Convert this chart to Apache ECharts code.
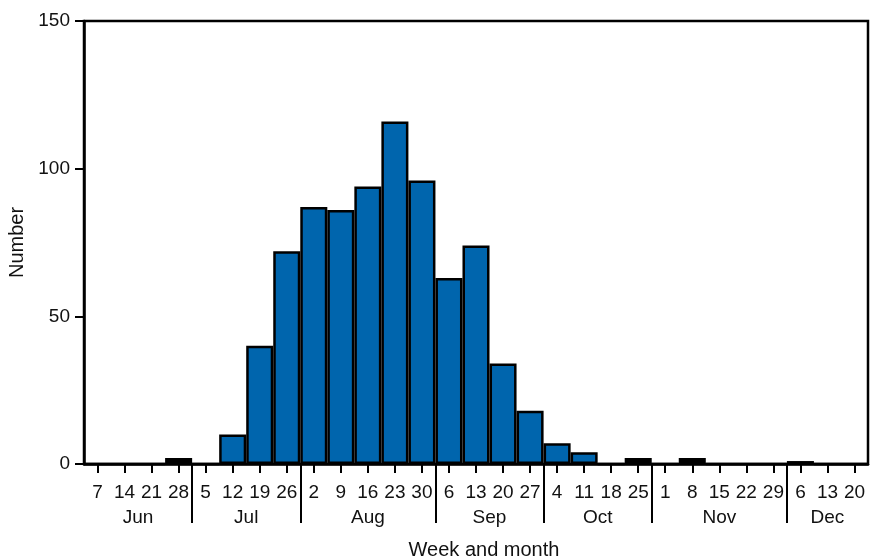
<!DOCTYPE html>
<html>
<head>
<meta charset="utf-8">
<script src="https://cdn.jsdelivr.net/npm/echarts@6/dist/echarts.min.js"></script>
<style>
  html, body { margin: 0; padding: 0; background: #fff; }
  #chart { width: 871px; height: 558px; }
</style>
</head>
<body>
<div id="chart"></div>
<script>
const weeks = ['7','14','21','28','5','12','19','26','2','9','16','23','30','6','13','20','27','4','11','18','25','1','8','15','22','29','6','13','20'];
const months = ['Jun','Jul','Aug','Sep','Oct','Nov','Dec'];
const weeksPerMonth = [4,4,5,4,4,5,3];
const counts = [0,0,0,2, 0,10,40,72, 87,86,94,116,96, 63,74,34,18, 7,4,0,2, 0,2,0,0,0, 1,0,0];
const yTicks = [0, 50, 100, 150];

// month boundaries and mid positions (in category units)
const boundaries = [];
const midpoints = [];
let acc = 0;
weeksPerMonth.forEach((n, i) => {
  midpoints.push(acc + n / 2);
  acc += n;
  if (i < weeksPerMonth.length - 1) boundaries.push(acc);
});

const FONT = 'Liberation Sans, Arial, Helvetica, sans-serif';
const BLUE = '#0065ad';

const chart = echarts.init(document.getElementById('chart'), null, { renderer: 'canvas' });
chart.setOption({
  animation: false,
  backgroundColor: '#fff',
  grid: {
    left: 84, right: 3, top: 21, bottom: 94,
    containLabel: false,
    outerBoundsMode: 'none',
    show: true, borderColor: '#000', borderWidth: 2.5, backgroundColor: 'transparent'
  },
  xAxis: [
    {
      type: 'category',
      data: weeks,
      boundaryGap: true,
      axisLine: { lineStyle: { color: '#000', width: 2.5 } },
      axisTick: { show: true, interval: 0, alignWithLabel: true, length: 9, lineStyle: { color: '#000', width: 2 } },
      axisLabel: { color: '#111', fontFamily: FONT, fontSize: 19, margin: 19, interval: 0 },
      splitLine: { show: false }
    },
    {
      type: 'value',
      position: 'bottom',
      min: 0,
      max: weeks.length,
      axisLine: { show: false },
      splitLine: { show: false },
      axisTick: {
        show: true,
        customValues: boundaries,
        length: 59,
        lineStyle: { color: '#000', width: 2 }
      },
      axisLabel: {
        show: true,
        customValues: midpoints,
        formatter: function (v) {
          const i = midpoints.findIndex(m => Math.abs(m - v) < 1e-6);
          return i >= 0 ? months[i] : '';
        },
        color: '#111', fontFamily: FONT, fontSize: 19, margin: 44
      },
      name: 'Week and month',
      nameLocation: 'middle',
      nameGap: 76,
      nameTextStyle: { color: '#111', fontFamily: FONT, fontSize: 20, padding: [0, 0, 0, 16] }
    }
  ],
  yAxis: {
    type: 'value',
    min: yTicks[0],
    max: yTicks[yTicks.length - 1],
    interval: yTicks[1] - yTicks[0],
    axisLine: { show: true, lineStyle: { color: '#000', width: 2.5 } },
    axisTick: { show: true, length: 9, lineStyle: { color: '#000', width: 2 } },
    axisLabel: { color: '#111', fontFamily: FONT, fontSize: 19, margin: 14 },
    splitLine: { show: false },
    name: 'Number',
    nameLocation: 'middle',
    nameGap: 56,
    nameTextStyle: { color: '#111', fontFamily: FONT, fontSize: 20 }
  },
  series: [{
    type: 'bar',
    xAxisIndex: 0,
    data: counts,
    barWidth: '100%',
    barCategoryGap: 0,
    itemStyle: {
      color: function (p) { return p.value <= 2 ? '#000' : BLUE; },
      borderColor: '#000',
      borderWidth: 2.5
    }
  }]
});
</script>
</body>
</html>
